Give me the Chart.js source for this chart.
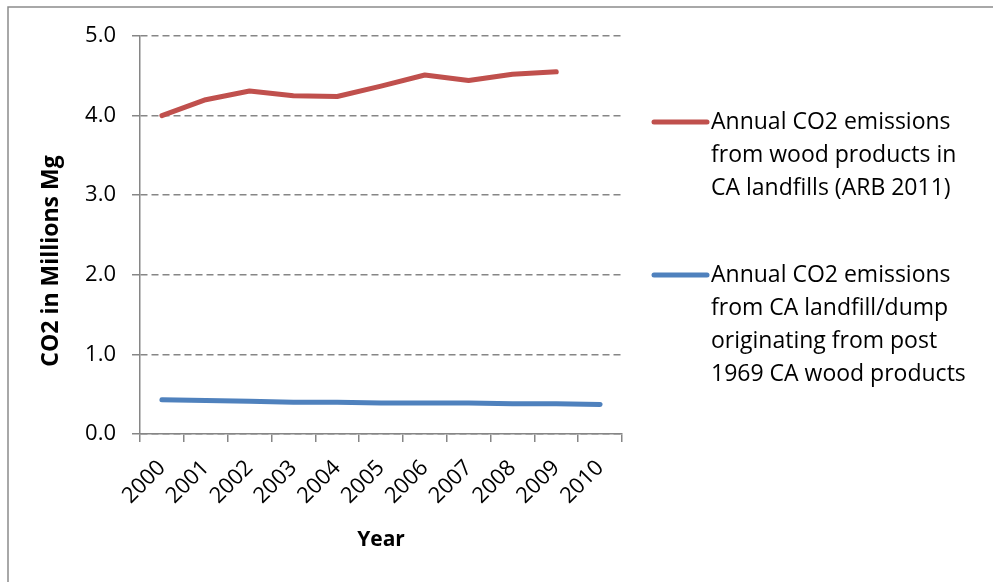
<!DOCTYPE html>
<html>
<head>
<meta charset="utf-8">
<script src="https://cdn.jsdelivr.net/npm/chart.js@4/dist/chart.umd.min.js"></script>
<style>
html,body{margin:0;padding:0;background:#fff;}
#wrap{position:relative;width:993px;height:582px;}
canvas{display:block;}
</style>
</head>
<body>
<div id="wrap"><canvas id="c" width="993" height="582"></canvas></div>
<script>
const years = ["2000","2001","2002","2003","2004","2005","2006","2007","2008","2009","2010"];
const woodARB = [4.00, 4.20, 4.31, 4.25, 4.24, 4.37, 4.51, 4.44, 4.52, 4.55, null];
const post1969 = [0.43, 0.42, 0.41, 0.40, 0.40, 0.39, 0.39, 0.39, 0.38, 0.38, 0.37];
const seriesLabels = [
  "Annual CO2 emissions from wood products in CA landfills (ARB 2011)",
  "Annual CO2 emissions from CA landfill/dump originating from post 1969 CA wood products"
];
const yTitle = "CO2 in Millions Mg";
const xTitle = "Year";
const yTicks = [0, 1, 2, 3, 4, 5];

const FONT = "'Open Sans', 'Noto Sans', sans-serif";

const frameAndLegend = {
  id: 'frameAndLegend',
  beforeDraw(chart) {
    const ctx = chart.ctx;
    ctx.save();
    ctx.strokeStyle = '#8c8c8c';
    ctx.lineWidth = 1.5;
    ctx.beginPath();
    ctx.moveTo(8, 582);
    ctx.lineTo(8, 7);
    ctx.lineTo(993, 7);
    ctx.stroke();
    ctx.restore();
  },
  afterDraw(chart) {
    const ctx = chart.ctx;
    ctx.save();
    // y axis title
    ctx.save();
    ctx.translate(51, 261);
    ctx.rotate(-Math.PI / 2);
    ctx.font = "bold 23px " + FONT;
    ctx.fillStyle = '#000';
    ctx.textAlign = 'center';
    ctx.textBaseline = 'middle';
    ctx.fillText(yTitle, 0, 0);
    ctx.restore();
    // legend
    ctx.font = "23px " + FONT;
    ctx.fillStyle = '#000';
    ctx.textBaseline = 'middle';
    const startY = [122, 275];
    const lh = 33;
    const maxW = 270;
    chart.data.datasets.forEach((ds, i) => {
      const words = ds.label.split(' ');
      const lines = [];
      let cur = '';
      words.forEach(w => {
        const t = cur ? cur + ' ' + w : w;
        if (ctx.measureText(t).width > maxW && cur) { lines.push(cur); cur = w; }
        else cur = t;
      });
      if (cur) lines.push(cur);
      const y0 = startY[i];
      ctx.strokeStyle = ds.borderColor;
      ctx.lineWidth = 5;
      ctx.lineCap = 'round';
      ctx.beginPath();
      ctx.moveTo(654, y0);
      ctx.lineTo(707, y0);
      ctx.stroke();
      lines.forEach((ln, k) => ctx.fillText(ln, 711, y0 + k * lh));
    });
    ctx.restore();
  }
};

new Chart(document.getElementById('c'), {
  type: 'line',
  data: {
    labels: years,
    datasets: [
      { label: seriesLabels[0], data: woodARB, borderColor: '#C0504D', backgroundColor: '#C0504D',
        borderWidth: 5, pointRadius: 0, tension: 0, borderCapStyle: 'round', borderJoinStyle: 'round', spanGaps: false },
      { label: seriesLabels[1], data: post1969, borderColor: '#4F81BD', backgroundColor: '#4F81BD',
        borderWidth: 5, pointRadius: 0, tension: 0, borderCapStyle: 'round', borderJoinStyle: 'round' }
    ]
  },
  options: {
    responsive: false,
    animation: false,
    layout: { padding: { top: 36, right: 371, left: 0, bottom: 0 } },
    plugins: { legend: { display: false }, tooltip: { enabled: false } },
    scales: {
      x: {
        type: 'category',
        offset: true,
        grid: { offset: true, drawOnChartArea: false, drawTicks: true, tickLength: 8, color: '#868686', lineWidth: 1.5 },
        border: { display: true, color: '#868686', width: 1.5 },
        ticks: { color: '#000', font: { family: FONT, size: 22 }, minRotation: 45, maxRotation: 45, padding: 13, autoSkip: false },
        title: { display: true, text: xTitle, color: '#000', font: { family: FONT, size: 21, weight: 'bold' }, padding: { top: 0, bottom: 29 } },
        afterFit(scale) { scale.height = 148; }
      },
      y: {
        min: 0, max: 5,
        afterBuildTicks(scale) { scale.ticks = yTicks.map(v => ({ value: v })); },
        grid: { color: '#868686', lineWidth: 1.5, tickLength: 8, drawTicks: true },
        border: { display: true, color: '#868686', width: 1.5, dash: [7, 4] },
        ticks: { color: '#000', font: { family: FONT, size: 22 }, padding: 16, callback: v => Number(v).toFixed(1) },
        title: { display: false },
        afterFit(scale) { scale.width = 140; }
      }
    }
  },
  plugins: [frameAndLegend]
});
</script>
</body>
</html>
